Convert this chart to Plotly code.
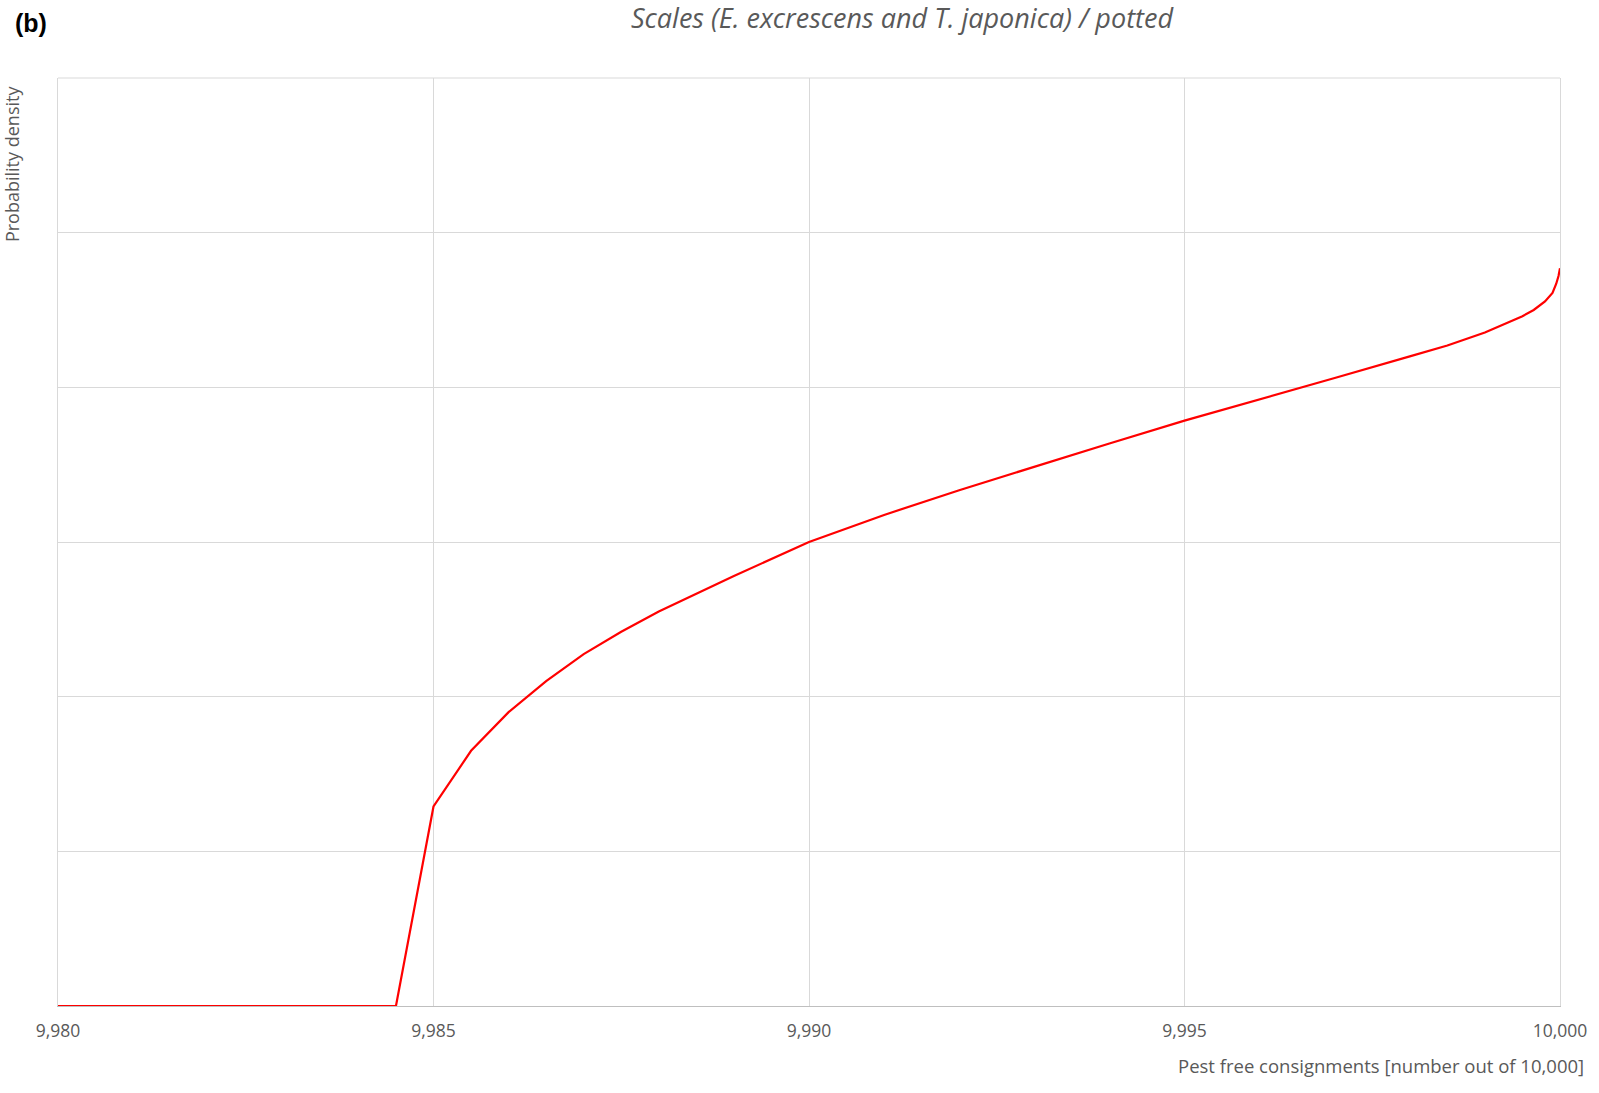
import plotly.graph_objects as go

# Data (x: pest-free consignments out of 10,000; y: density in gridline units)
x_vals = [9980, 9984.5, 9985, 9985.5, 9986, 9986.5, 9987, 9987.5, 9988, 9988.5,
          9989, 9990, 9991, 9992, 9993, 9994, 9995, 9996, 9997, 9998,
          9998.5, 9999, 9999.25, 9999.5, 9999.65, 9999.8, 9999.9, 9999.95,
          9999.98, 10000]
y_vals = [0, 0, 1.29, 1.65, 1.90, 2.10, 2.275, 2.42, 2.55, 2.665,
          2.78, 3.0, 3.175, 3.335, 3.487, 3.637, 3.785, 3.925, 4.06, 4.20,
          4.27, 4.355, 4.405, 4.46, 4.50, 4.555, 4.61, 4.67,
          4.72, 4.77]
x_ticks = [9980, 9985, 9990, 9995, 10000]
x_tick_text = ["9,980", "9,985", "9,990", "9,995", "10,000"]

title_text = "Scales (E. excrescens and T. japonica) / potted"
panel_label = "(b)"
y_title = "Probability density"
x_title = "Pest free consignments [number out of 10,000]"

W, H = 1599, 1093
ML, MT = 58, 78
MR = W - 1562
MB = H - 1006
FONT = "Open Sans"
GREY = "#595959"

fig = go.Figure()
fig.add_trace(go.Scatter(x=x_vals, y=y_vals, mode="lines",
                         line=dict(color="#ff0000", width=2.2), showlegend=False,
                         hoverinfo="x+y"))

fig.update_layout(
    width=W, height=H,
    margin=dict(l=ML, r=MR, t=MT, b=MB),
    paper_bgcolor="white", plot_bgcolor="white",
    font=dict(family=FONT, color=GREY),
    xaxis=dict(range=[9980, 10000], tickvals=x_ticks, ticktext=x_tick_text,
               showgrid=True, gridcolor="#d9d9d9", gridwidth=1,
               showline=True, linecolor="#bfbfbf", linewidth=1,
               zeroline=False, ticks="", ticklabelstandoff=9,
               tickfont=dict(family=FONT, size=17.5, color=GREY)),
    yaxis=dict(range=[0, 6], dtick=1, showticklabels=False,
               showgrid=True, gridcolor="#d9d9d9", gridwidth=1,
               showline=True, mirror=True, linecolor="#d9d9d9", linewidth=1,
               zeroline=False, ticks=""),
)

# top border
fig.add_shape(type="line", xref="paper", yref="paper", x0=0, x1=1, y0=1, y1=1,
              line=dict(color="#d9d9d9", width=1))

pw = W - ML - MR
ph = H - MT - MB

def px_x(p):
    return (p - ML) / pw

def px_y(p):
    return (H - MB - p) / ph

fig.add_annotation(text=title_text, xref="paper", yref="paper",
                   x=px_x(903.5), y=px_y(18), xanchor="center", yanchor="middle",
                   showarrow=False,
                   font=dict(family=FONT, size=27, color=GREY, style="italic"))
fig.add_annotation(text="<b>" + panel_label + "</b>", xref="paper", yref="paper",
                   x=px_x(13), y=px_y(23), xanchor="left", yanchor="middle",
                   showarrow=False,
                   font=dict(family="Liberation Sans", size=25, color="black"))
fig.add_annotation(text=y_title, xref="paper", yref="paper",
                   x=px_x(12), y=px_y(84), xanchor="center", yanchor="top",
                   textangle=-90, showarrow=False,
                   font=dict(family=FONT, size=18, color=GREY))
fig.add_annotation(text=x_title, xref="paper", yref="paper",
                   x=px_x(1588), y=px_y(1065), xanchor="right", yanchor="middle",
                   showarrow=False,
                   font=dict(family=FONT, size=18.5, color=GREY))

fig.write_html("out.html", config={"displayModeBar": False},
               post_script="document.body.style.margin='0';"
                           "document.body.style.overflow='hidden';")
